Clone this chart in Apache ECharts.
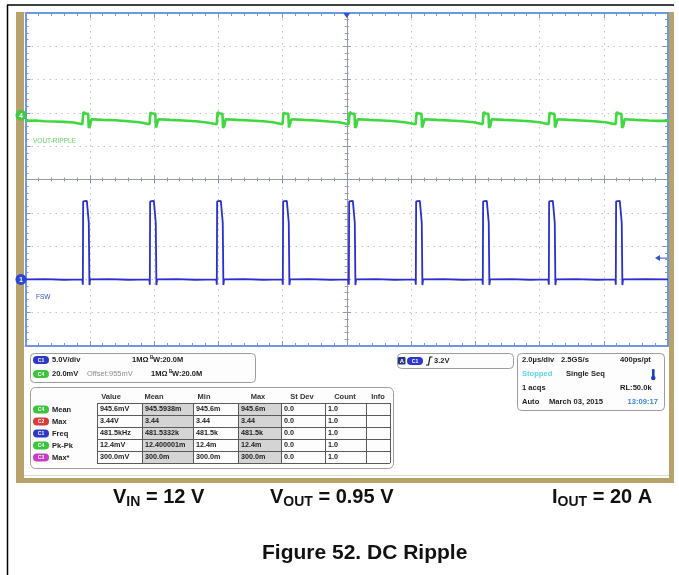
<!DOCTYPE html>
<html>
<head>
<meta charset="utf-8">
<title>Figure 52. DC Ripple</title>
<script src="https://cdn.jsdelivr.net/npm/echarts@6.0.0/dist/echarts.min.js"></script>
<style>
html,body{margin:0;padding:0;background:#ffffff;}
#chart{width:679px;height:575px;}
</style>
</head>
<body>
<div id="chart"></div>
<script>
// ---------------- DATA ----------------
// horizontal: time in µs (2.0 µs/div, 10 div); vertical: screen divisions (10 div)
const timeRange = [-10, 10];
const timeStep = 2;
const divRange = [-5, 5];
const divStep = 1;

// C4 : VOUT-RIPPLE (green) [t µs, div]
const voutRipple = [
  [-10.00,1.76],[-9.70,1.77],[-9.40,1.75],[-9.10,1.74],[-8.80,1.73],[-8.50,1.71],[-8.23,1.66],
  [-8.20,2.02],[-8.13,1.98],[-8.05,1.97],[-8.03,1.55],[-7.99,1.62],[-7.95,1.81],
  [-7.60,1.79],[-7.20,1.78],[-6.80,1.75],[-6.45,1.72],
  [-6.14,1.66],[-6.11,2.01],[-6.04,1.98],[-5.96,1.97],[-5.94,1.56],[-5.90,1.62],[-5.86,1.81],
  [-5.50,1.79],[-5.10,1.77],[-4.70,1.75],[-4.35,1.71],
  [-4.05,1.66],[-4.02,2.02],[-3.95,1.98],[-3.87,1.97],[-3.85,1.55],[-3.81,1.62],[-3.77,1.81],
  [-3.40,1.79],[-3.00,1.77],[-2.60,1.75],[-2.30,1.72],
  [-2.00,1.66],[-1.97,2.01],[-1.90,1.98],[-1.82,1.97],[-1.80,1.56],[-1.76,1.62],[-1.72,1.81],
  [-1.35,1.79],[-0.95,1.77],[-0.55,1.74],[-0.25,1.72],
  [0.06,1.66],[0.09,2.02],[0.16,1.98],[0.24,1.97],[0.26,1.55],[0.30,1.62],[0.34,1.81],
  [0.70,1.79],[1.10,1.77],[1.50,1.75],[1.85,1.71],
  [2.145,1.66],[2.175,2.01],[2.245,1.98],[2.325,1.97],[2.345,1.56],[2.385,1.62],[2.425,1.81],
  [2.80,1.79],[3.20,1.77],[3.60,1.75],[3.95,1.72],
  [4.23,1.66],[4.26,2.02],[4.33,1.98],[4.41,1.97],[4.43,1.55],[4.47,1.62],[4.51,1.81],
  [4.90,1.79],[5.30,1.77],[5.70,1.75],[6.00,1.72],
  [6.285,1.66],[6.315,2.01],[6.385,1.98],[6.465,1.97],[6.485,1.56],[6.525,1.62],[6.565,1.81],
  [6.90,1.79],[7.30,1.77],[7.70,1.75],[8.05,1.72],
  [8.37,1.66],[8.40,2.02],[8.47,1.98],[8.55,1.97],[8.57,1.55],[8.61,1.62],[8.65,1.81],
  [9.00,1.79],[9.40,1.77],[9.70,1.76],[10.00,1.76]
];

// C1 : FSW switch node (blue) [t µs, div]
const fswTrace = [
  [-10.00,-3.00],[-9.40,-2.99],[-8.80,-3.01],
  [-8.23,-3.00],[-8.215,-3.16],[-8.205,-0.66],[-8.18,-0.61],[-8.09,-0.64],[-8.05,-0.66],[-8.03,-1.30],[-8.01,-3.17],[-7.99,-3.00],
  [-7.40,-2.99],[-6.80,-3.01],
  [-6.145,-3.00],[-6.13,-3.16],[-6.12,-0.66],[-6.095,-0.61],[-6.005,-0.64],[-5.965,-0.66],[-5.945,-1.30],[-5.925,-3.17],[-5.905,-3.00],
  [-5.30,-2.99],[-4.70,-3.01],
  [-4.06,-3.00],[-4.045,-3.16],[-4.035,-0.66],[-4.01,-0.61],[-3.92,-0.64],[-3.88,-0.66],[-3.86,-1.30],[-3.84,-3.17],[-3.82,-3.00],
  [-3.20,-2.99],[-2.60,-3.01],
  [-2.005,-3.00],[-1.99,-3.16],[-1.98,-0.66],[-1.955,-0.61],[-1.865,-0.64],[-1.825,-0.66],[-1.805,-1.30],[-1.785,-3.17],[-1.765,-3.00],
  [-1.20,-2.99],[-0.50,-3.01],
  [0.05,-3.00],[0.065,-3.16],[0.075,-0.66],[0.10,-0.61],[0.19,-0.64],[0.23,-0.66],[0.25,-1.30],[0.27,-3.17],[0.29,-3.00],
  [0.90,-2.99],[1.50,-3.01],
  [2.135,-3.00],[2.15,-3.16],[2.16,-0.66],[2.185,-0.61],[2.275,-0.64],[2.315,-0.66],[2.335,-1.30],[2.355,-3.17],[2.375,-3.00],
  [3.00,-2.99],[3.60,-3.01],
  [4.22,-3.00],[4.235,-3.16],[4.245,-0.66],[4.27,-0.61],[4.36,-0.64],[4.40,-0.66],[4.42,-1.30],[4.44,-3.17],[4.46,-3.00],
  [5.10,-2.99],[5.70,-3.01],
  [6.275,-3.00],[6.29,-3.16],[6.30,-0.66],[6.325,-0.61],[6.415,-0.64],[6.455,-0.66],[6.475,-1.30],[6.495,-3.17],[6.515,-3.00],
  [7.10,-2.99],[7.80,-3.01],
  [8.36,-3.00],[8.375,-3.16],[8.385,-0.66],[8.41,-0.61],[8.50,-0.64],[8.54,-0.66],[8.56,-1.30],[8.58,-3.17],[8.60,-3.00],
  [9.30,-2.99],[10.00,-3.00]
];

// channel marker levels (div) and trigger level (3.2 V on C1 at 5 V/div)
const markerLevels = [1.93, -3.0];
const markerNames = ['4', '1'];
const traceNames = ['VOUT-RIPPLE', 'FSW'];
const triggerLevel = [-2.36];

// scope readout texts
const chanRows = [
  ['C1', '5.0V/div', '', '1MΩ', 'W:20.0M'],
  ['C4', '20.0mV', 'Offset:955mV', '1MΩ', 'W:20.0M']
];
const measHeaders = ['Value', 'Mean', 'Min', 'Max', 'St Dev', 'Count', 'Info'];
const measNames = ['Mean', 'Max', 'Freq', 'Pk-Pk', 'Max*'];
const measSources = ['C4', 'C2', 'C1', 'C4', 'C3'];
const measTable = [
  ['945.6mV', '945.5938m', '945.6m', '945.6m', '0.0', '1.0', ''],
  ['3.44V', '3.44', '3.44', '3.44', '0.0', '1.0', ''],
  ['481.5kHz', '481.5332k', '481.5k', '481.5k', '0.0', '1.0', ''],
  ['12.4mV', '12.400001m', '12.4m', '12.4m', '0.0', '1.0', ''],
  ['300.0mV', '300.0m', '300.0m', '300.0m', '0.0', '1.0', '']
];
const triggerText = ['A', 'C1', '3.2V'];
const timebaseRows = [
  ['2.0µs/div', '2.5GS/s', '400ps/pt'],
  ['Stopped', 'Single Seq', ''],
  ['1 acqs', '', 'RL:50.0k'],
  ['Auto', 'March 03, 2015', '13:09:17']
];
const conditions = [['V', 'IN', ' = 12 V'], ['V', 'OUT', ' = 0.95 V'], ['I', 'OUT', ' = 20 A']];
const caption = 'Figure 52. DC Ripple';

// ---------------- STYLE / LAYOUT ----------------
const FONT = '"Liberation Sans", Arial, Helvetica, sans-serif';
const GRID = { left: 25.5, top: 13, width: 642.5, height: 333 };
const C_GREEN = '#3fd83f';
const C_BLUE = '#2a2fd0';
const PILL = { C1: '#2e38c8', C2: '#d83a3a', C3: '#c83ac8', C4: '#3cc43c' };
const MEAS_PILL = ['#3cc43c', '#d83a3a', '#2e38c8', '#3cc43c', '#c83ac8'];

const borderBlue = '#6a98e8';
const tickCol = '#8595bd';
const crossCol = '#9a9a9a';

function mkAxis(kind, position, offset, inside, lineColor, lineWidth, split, tickLen) {
  const r = kind === 'x' ? timeRange : divRange;
  const s = kind === 'x' ? timeStep : divStep;
  return {
    type: 'value', min: r[0], max: r[1], interval: s, position: position, offset: offset,
    silent: true,
    axisLine: { show: true, onZero: false, lineStyle: { color: lineColor, width: lineWidth } },
    axisTick: { show: true, inside: inside, length: tickLen, lineStyle: { color: tickCol, width: 1 } },
    minorTick: { show: true, splitNumber: 5, length: Math.round(tickLen * 0.6), lineStyle: { color: tickCol, width: 1 } },
    axisLabel: { show: false },
    splitLine: { show: split, lineStyle: { color: '#c2c2c2', width: 1, type: [1.5, 4.5] } },
    minorSplitLine: { show: false },
    axisPointer: { show: false }
  };
}
const halfH = GRID.height / 2, halfW = GRID.width / 2;

const rich = {
  n: { fontSize: 20, lineHeight: 24, color: '#111', fontFamily: FONT },
  s: { fontSize: 14, lineHeight: 14, padding: [11, 0, 0, 0], color: '#111', fontFamily: FONT }
};
const condLeft = [113, 270, 552];

const chart = echarts.init(document.getElementById('chart'), null, { renderer: 'canvas', width: 679, height: 575 });

chart.setOption({
  animation: false,
  backgroundColor: '#ffffff',
  grid: Object.assign({ show: false, outerBoundsMode: 'none', containLabel: false }, GRID),
  xAxis: [
    mkAxis('x', 'bottom', 0, true, borderBlue, 2, true, 5),
    mkAxis('x', 'top', 0, true, borderBlue, 2, false, 5),
    mkAxis('x', 'bottom', -halfH, false, crossCol, 1, false, 4),
    mkAxis('x', 'top', -halfH, false, crossCol, 1, false, 4)
  ],
  yAxis: [
    mkAxis('y', 'left', 0, true, borderBlue, 2, true, 5),
    mkAxis('y', 'right', 0, true, borderBlue, 2, false, 5),
    mkAxis('y', 'left', -halfW, false, crossCol, 1, false, 4),
    mkAxis('y', 'right', -halfW, false, crossCol, 1, false, 4)
  ],
  title: conditions.map((c, i) => ({
    left: condLeft[i], top: 485, padding: 0,
    text: '{n|' + c[0] + '}{s|' + c[1] + '}{n|' + c[2] + '}',
    textStyle: { rich: rich }
  })).concat([{
    left: 262, top: 543, padding: 0, text: caption,
    textStyle: { fontSize: 21, fontWeight: 'bold', color: '#111', fontFamily: FONT }
  }]),
  series: [
    { type: 'line', name: traceNames[0], data: voutRipple, xAxisIndex: 0, yAxisIndex: 0,
      showSymbol: false, symbol: 'none', z: 3,
      lineStyle: { color: C_GREEN, width: 2.6 } },
    { type: 'line', name: traceNames[1], data: fswTrace, xAxisIndex: 0, yAxisIndex: 0,
      showSymbol: false, symbol: 'none', z: 3,
      lineStyle: { color: C_BLUE, width: 1.8 } }
  ]
});

// ---------------- screenshot frame and readouts (graphic) ----------------
const g = [];
function rect(x, y, w, h, fill, stroke, r, z, lw) {
  g.push({ type: 'rect', z: z, silent: true, shape: { x: x, y: y, width: w, height: h, r: r || 0 },
    style: { fill: fill || 'none', stroke: stroke || 'none', lineWidth: lw || 1 } });
}
function line(x1, y1, x2, y2, stroke, lw, z) {
  g.push({ type: 'line', z: z || 10, silent: true, shape: { x1: x1, y1: y1, x2: x2, y2: y2 },
    style: { stroke: stroke, lineWidth: lw || 1 } });
}
function text(x, y, t, fill, size, weight, align, z) {
  g.push({ type: 'text', z: z || 12, silent: true, x: x, y: y,
    style: { text: t, fill: fill || '#1c1c1c', font: (weight || 'bold') + ' ' + (size || 7.5) + 'px ' + FONT,
      textAlign: align || 'left', textVerticalAlign: 'middle' } });
}
function pill(x, y, label, color) {
  rect(x, y, 16, 8, color, null, 4, 12);
  text(x + 8, y + 4.2, label, '#ffffff', 5, 'bold', 'center', 13);
}

// page frame lines
line(7, 5, 674, 5, '#000', 1.5, 20);
line(7.5, 5, 7.5, 575, '#000', 1.5, 20);
// tan screenshot frame + white panel
rect(16, 12, 658, 471, '#b8a26b', null, 0, -20);
rect(24, 12, 645, 466, '#ffffff', null, 0, -19);
line(24, 475.5, 669, 475.5, '#dedbd0', 1, -18);

// channel markers and trace labels
const gPix = chart.convertToPixel({ gridIndex: 0 }, [timeRange[0], markerLevels[0]]);
const bPix = chart.convertToPixel({ gridIndex: 0 }, [timeRange[0], markerLevels[1]]);
g.push({ type: 'circle', z: 15, silent: true, shape: { cx: 21, cy: gPix[1], r: 5.5 }, style: { fill: '#43c843' } });
text(21, gPix[1] + 0.5, markerNames[0], '#ffffff', 6.5, 'bold', 'center', 16);
g.push({ type: 'circle', z: 15, silent: true, shape: { cx: 21, cy: bPix[1], r: 5.5 }, style: { fill: '#2b45d6' } });
text(21, bPix[1] + 0.5, markerNames[1], '#ffffff', 6.5, 'bold', 'center', 16);
text(33, gPix[1] + 26, traceNames[0], '#62d062', 6.5, 'normal', 'left', 15);
text(36, bPix[1] + 18, traceNames[1], '#3a4ccc', 6.5, 'normal', 'left', 15);

// trigger position (top) and trigger level (right)
const tPos = chart.convertToPixel({ gridIndex: 0 }, [0, divRange[1]]);
g.push({ type: 'polygon', z: 15, silent: true, shape: { points: [[tPos[0] - 3.5, tPos[1]], [tPos[0] + 3.5, tPos[1]], [tPos[0], tPos[1] + 5]] }, style: { fill: '#2c54d6' } });
const tLev = chart.convertToPixel({ gridIndex: 0 }, [timeRange[1], triggerLevel[0]]);
g.push({ type: 'polygon', z: 15, silent: true, shape: { points: [[tLev[0] - 13, tLev[1]], [tLev[0] - 8, tLev[1] - 3], [tLev[0] - 8, tLev[1] + 3]] }, style: { fill: '#3355cc' } });
line(tLev[0] - 9, tLev[1], tLev[0] - 1, tLev[1], '#3355cc', 1, 15);

// channel settings box
rect(30.5, 353.5, 225, 29, '#fdfdfd', '#9c9c9c', 4, 10);
const chanY = [360, 374];
const chanColors = [PILL.C1, PILL.C4];
chanRows.forEach((r, i) => {
  const y = chanY[i];
  pill(33, y - 4, r[0], chanColors[i]);
  text(52, y, r[1]);
  if (r[2]) text(87, y, r[2], '#8c8c8c', 7.5, 'normal');
  const mx = i === 0 ? 132 : 151;
  text(mx, y, r[3]);
  text(mx + 18, y - 2.5, 'B', '#1c1c1c', 4.5, 'bold');
  text(mx + 21, y, r[4]);
});

// measurement table
rect(30.5, 387.5, 363, 81, '#fdfdfd', '#9c9c9c', 5, 10);
const colX = [97, 142, 193, 238, 281, 325, 366, 390];
const rowY = [403, 415, 427, 439, 451, 463];
const headX = [111, 154, 204, 258, 302, 345, 378];
measHeaders.forEach((h, i) => text(headX[i], 397, h, '#333', 7.5, 'bold', 'center'));
[1, 3].forEach(c => rect(colX[c], rowY[0], colX[c + 1] - colX[c], rowY[5] - rowY[0], '#d4d4d4', null, 0, 11));
rowY.forEach(y => line(colX[0], y + 0.5, colX[7], y + 0.5, '#5a5a5a', 1, 12));
colX.forEach(x => line(x + 0.5, rowY[0], x + 0.5, rowY[5], '#5a5a5a', 1, 12));
measNames.forEach((n, r) => {
  const y = (rowY[r] + rowY[r + 1]) / 2 + 0.5;
  pill(33, y - 4, measSources[r], MEAS_PILL[r]);
  text(52, y, n);
  measTable[r].forEach((v, c) => { if (v) text(colX[c] + 3, y, v, '#1c1c1c', 7.2, 'bold', 'left', 13); });
});

// trigger box
rect(397.5, 353.5, 116, 15, '#fdfdfd', '#9c9c9c', 4, 10);
rect(398, 357, 7.5, 7.5, '#24357a', null, 1, 12);
text(401.8, 361, triggerText[0], '#ffffff', 6, 'bold', 'center', 13);
pill(407, 357, triggerText[1], PILL.C1);
g.push({ type: 'polyline', z: 13, silent: true, shape: { points: [[426, 365], [428.5, 365], [430, 357], [432.5, 357]] }, style: { stroke: '#111', lineWidth: 1.2, fill: 'none' } });
text(434, 361, triggerText[2]);

// timebase box
rect(517.5, 353.5, 147, 57, '#fdfdfd', '#9c9c9c', 4, 10);
const tbY = [360, 374, 388, 402];
const tbX = [[522, 'left'], [561, 'left'], [620, 'left']];
timebaseRows.forEach((r, i) => {
  r.forEach((t, j) => {
    if (!t) return;
    let fill = '#1c1c1c', x = tbX[j][0], al = tbX[j][1];
    if (i === 0 && j === 1) x = 561;
    if (i === 1 && j === 0) fill = '#5fd3ea';
    if (i === 1 && j === 1) x = 566;
    if (i === 3 && j === 1) x = 549;
    if (i === 3 && j === 2) { fill = '#3b86dc'; x = 658; al = 'right'; }
    text(x, tbY[i], t, fill, 7.6, 'bold', al);
  });
});
// acquisition indicator
rect(652, 369, 2.6, 8, '#1d3fbf', null, 1, 12);
g.push({ type: 'circle', z: 12, silent: true, shape: { cx: 653.3, cy: 378, r: 2.3 }, style: { fill: '#1d3fbf' } });

chart.setOption({ graphic: { elements: g } });
</script>
</body>
</html>
